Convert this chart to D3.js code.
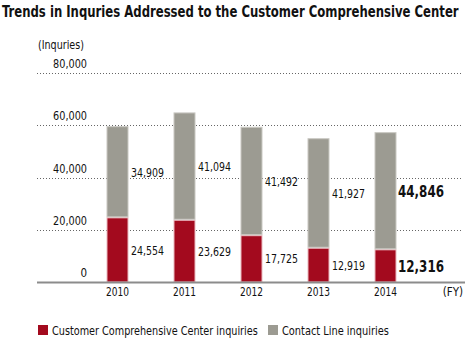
<!DOCTYPE html>
<html>
<head>
<meta charset="utf-8">
<script src="https://cdn.jsdelivr.net/npm/d3@7"></script>
<style>
  html, body { margin: 0; padding: 0; background: #fff; }
  svg { display: block; }
  text { font-family: "DejaVu Sans Condensed", "DejaVu Sans", sans-serif; fill: #111; }
</style>
</head>
<body>
<svg id="chart" width="465" height="338"></svg>
<script>
// Fiscal years and inquiry counts
const years = ["2010", "2011", "2012", "2013", "2014"];
const centerInquiries = [24554, 23629, 17725, 12919, 12316];
const contactLineInquiries = [34909, 41094, 41492, 41927, 44846];
const yTicks = [0, 20000, 40000, 60000, 80000];
const seriesNames = ["Customer Comprehensive Center inquiries", "Contact Line inquiries"];

const RED = "#a30a1e";
const GRAY = "#9c9b92";

const svg = d3.select("#chart");

const x = d3.scaleBand().domain(years).range([84, 419]);
const y = d3.scaleLinear().domain([0, 80000]).range([282, 73]);
const barW = 21;
const fmt = d3.format(",");

// Place a text at (px, py) and squeeze it horizontally to width w (condensed look)
function condensed(parent, str, px, py, w, size, opts = {}) {
  const t = parent.append("text")
    .attr("font-size", size)
    .attr("font-weight", opts.bold ? "bold" : "normal")
    .attr("text-anchor", opts.anchor || "start")
    .attr("dy", opts.dy || null)
    .text(str);
  const natural = t.node().getComputedTextLength();
  const k = Math.min(1, w / natural);
  t.attr("transform", `translate(${px},${py}) scale(${k},1)`);
  return t;
}

// Title
condensed(svg, "Trends in Inquries Addressed to the Customer Comprehensive Center", 2, 17, 457, 15, { bold: true });

// Unit label
condensed(svg, "(Inquries)", 38, 49, 46, 11.5);

// Dotted gridlines (excluding baseline)
svg.append("g").selectAll("line")
  .data(yTicks.filter(d => d > 0))
  .join("line")
  .attr("x1", 37).attr("x2", 462)
  .attr("y1", d => Math.round(y(d)) + 0.5).attr("y2", d => Math.round(y(d)) + 0.5)
  .attr("stroke", "#666").attr("stroke-width", 1)
  .attr("stroke-dasharray", "1,2");

// Tick labels above their gridlines
const ticksG = svg.append("g");
yTicks.forEach(d => {
  condensed(ticksG, fmt(d), 87, y(d) - 5, d === 0 ? 7 : 34, 11.5, { anchor: "end" });
});

// Stacked bars
const stacks = years.map((yr, i) => ({
  year: yr,
  red: centerInquiries[i],
  gray: contactLineInquiries[i]
}));

const bars = svg.append("g");
bars.selectAll("rect.red")
  .data(stacks)
  .join("rect")
  .attr("class", "red")
  .attr("x", d => x(d.year) + x.bandwidth() / 2 - barW / 2)
  .attr("width", barW)
  .attr("y", d => y(d.red))
  .attr("height", d => y(0) - y(d.red))
  .attr("fill", RED)
  .attr("stroke", "#e9b8be").attr("stroke-width", 1);

bars.selectAll("rect.gray")
  .data(stacks)
  .join("rect")
  .attr("class", "gray")
  .attr("x", d => x(d.year) + x.bandwidth() / 2 - barW / 2)
  .attr("width", barW)
  .attr("y", d => y(d.red + d.gray))
  .attr("height", d => y(d.red) - y(d.red + d.gray) - 1)
  .attr("fill", GRAY)
  .attr("stroke", "#c9c8c2").attr("stroke-width", 1);

// Value labels beside each segment
const last = years[years.length - 1];
const labels = svg.append("g");
stacks.forEach(d => {
  const big = d.year === last;
  const lx = x(d.year) + x.bandwidth() / 2 + barW / 2 + (big ? 2 : 3);
  [[d.gray, (y(d.red) + y(d.red + d.gray)) / 2], [d.red, (y(0) + y(d.red)) / 2]].forEach(([v, cy]) => {
    condensed(labels, fmt(v), lx, cy, big ? 46 : 33, big ? 16 : 11.5,
      { bold: big, dy: big ? "0.36em" : "0.4em" });
  });
});

// Baseline
svg.append("line")
  .attr("x1", 37).attr("x2", 465)
  .attr("y1", 282.5).attr("y2", 282.5)
  .attr("stroke", "#8c8c8c").attr("stroke-width", 2);

// Year labels, positioned by the band scale
const yearsG = svg.append("g");
years.forEach(yr => {
  condensed(yearsG, yr, x(yr) + x.bandwidth() / 2, 296, 23, 11.5, { anchor: "middle" });
});

condensed(svg, "(FY)", 463, 296, 22, 11.5, { anchor: "end" });

// Legend
const legend = svg.append("g");
const legendItems = [
  { name: seriesNames[0], color: RED, x: 38, w: 206 },
  { name: seriesNames[1], color: GRAY, x: 268, w: 107 }
];
legendItems.forEach(it => {
  legend.append("rect")
    .attr("x", it.x).attr("y", 325).attr("width", 10).attr("height", 10)
    .attr("fill", it.color);
  condensed(legend, it.name, it.x + 14, 335, it.w, 11.5);
});
</script>
</body>
</html>
